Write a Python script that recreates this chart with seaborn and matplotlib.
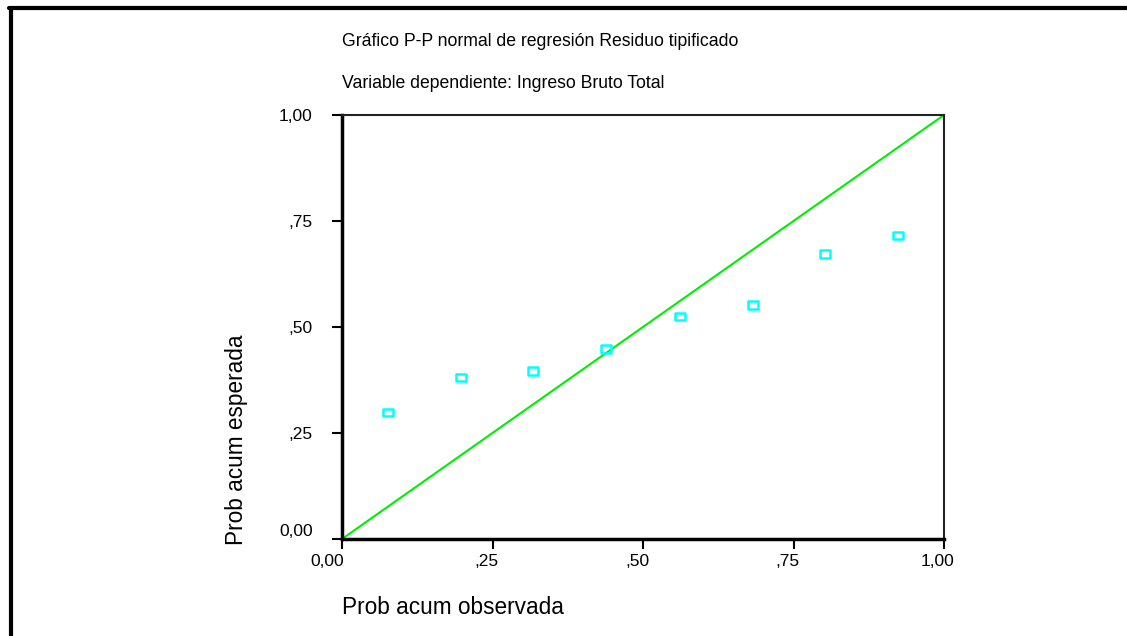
import matplotlib
matplotlib.use("Agg")
import matplotlib.pyplot as plt
from matplotlib.path import Path
from matplotlib.lines import Line2D
from matplotlib.transforms import ScaledTranslation
import seaborn as sns
import pandas as pd

# Data
obs_prob = [0.076, 0.197, 0.318, 0.439, 0.561, 0.682, 0.803, 0.924]
exp_prob = [0.298, 0.380, 0.396, 0.448, 0.524, 0.552, 0.672, 0.715]
ref_line = [0.0, 1.0]
tick_vals = [0.0, 0.25, 0.5, 0.75, 1.0]
tick_labels = ["0,00", ",25", ",50", ",75", "1,00"]

title1 = "Gráfico P-P normal de regresión Residuo tipificado"
title2 = "Variable dependiente: Ingreso Bruto Total"
xlabel = "Prob acum observada"
ylabel = "Prob acum esperada"

sns.set_style("white")
plt.rcParams['font.family'] = ['Liberation Sans', 'DejaVu Sans']
plt.rcParams['text.color'] = 'black'
plt.rcParams['xtick.color'] = 'black'
plt.rcParams['ytick.color'] = 'black'

W, H = 1127, 636
fig = plt.figure(figsize=(W / 100, H / 100), dpi=100)
ax = fig.add_axes([342 / W, 1 - 539 / H, (944 - 342) / W, (539 - 115) / H])

df = pd.DataFrame({"obs": obs_prob, "exp": exp_prob})
ref = pd.DataFrame({"x": ref_line, "y": ref_line})

sns.lineplot(data=ref, x="x", y="y", ax=ax, color="#00ee00", linewidth=1.5)

rect = Path([(-1, -0.72), (1, -0.72), (1, 0.72), (-1, 0.72), (-1, -0.72)],
            [Path.MOVETO, Path.LINETO, Path.LINETO, Path.LINETO, Path.CLOSEPOLY])
sns.scatterplot(data=df, x="obs", y="exp", ax=ax, marker=rect, s=52,
                facecolors="none", edgecolor="#00ffff", linewidth=1.8, zorder=3)

ax.set_xlim(0, 1)
ax.set_ylim(0, 1)
ax.set_xticks(tick_vals)
ax.set_xticklabels(tick_labels)
ax.set_yticks(tick_vals)
ax.set_yticklabels(tick_labels)
ax.tick_params(direction="out", length=7, width=1.5, labelsize=12.5,
               colors="black", left=True, bottom=True)
ax.tick_params(axis="y", pad=14)
ax.tick_params(axis="x", pad=4)
ax.set_xlabel("")
ax.set_ylabel("")
for s in ["left", "bottom"]:
    ax.spines[s].set_linewidth(2.5)
    ax.spines[s].set_color("black")
for s in ["top", "right"]:
    ax.spines[s].set_linewidth(1.5)
    ax.spines[s].set_color("#222222")
ax.set_facecolor("white")

# SPSS-style label placement offsets
dpi_tr = fig.dpi_scale_trans
for i, t in enumerate(ax.xaxis.get_major_ticks()):
    dx = -15 if i == 0 else -6
    t.label1.set_transform(t.label1.get_transform() + ScaledTranslation(dx / 100, 0, dpi_tr))
yt0 = ax.yaxis.get_major_ticks()[0]
yt0.label1.set_transform(yt0.label1.get_transform() + ScaledTranslation(0, 9 / 100, dpi_tr))

fig.text(342 / W, 1 - 42 / H, title1, ha="left", va="center", fontsize=12.7)
fig.text(342 / W, 1 - 83 / H, title2, ha="left", va="center", fontsize=12.7)
fig.text(342 / W, 1 - 608 / H, xlabel, ha="left", va="center", fontsize=16.3)
fig.text(237 / W, 1 - 545 / H, ylabel, ha="center", va="bottom",
         rotation=90, fontsize=16.3)

# Outer frame (left and top edges)
fig.add_artist(Line2D([10.5 / W, 10.5 / W], [0, 1 - 8 / H], color="black",
                      linewidth=3, transform=fig.transFigure))
fig.add_artist(Line2D([9 / W, 1], [1 - 8 / H, 1 - 8 / H], color="black",
                      linewidth=3, transform=fig.transFigure))

fig.savefig("out.png", dpi=100, facecolor="white")
